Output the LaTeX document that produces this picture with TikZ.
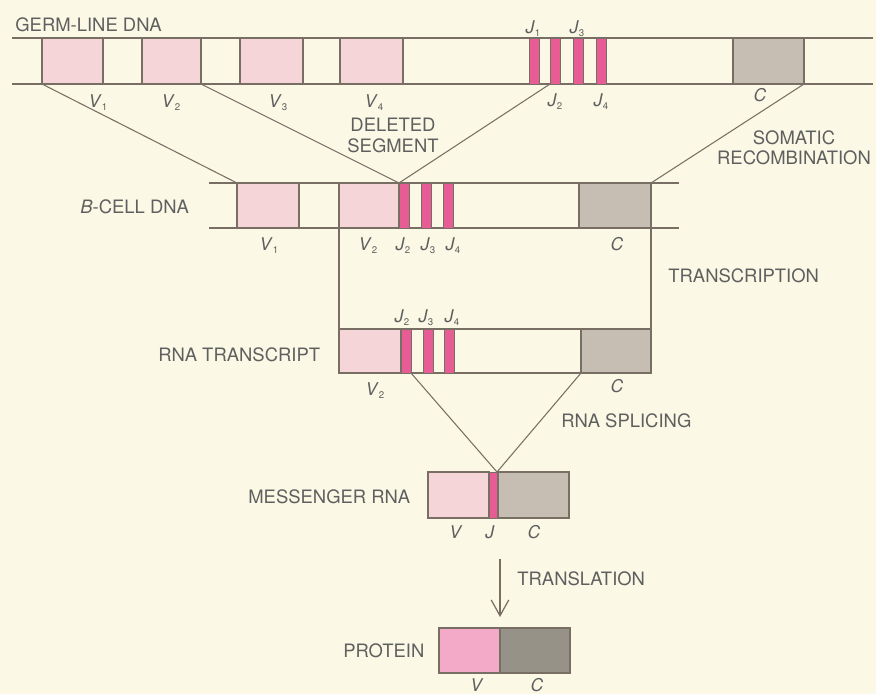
\documentclass[tikz,border=0pt]{standalone}
\usepackage{fontspec}
\setmainfont{TeX Gyre Heros}
\usepackage{tikz}
\usepackage{xcolor}
\usetikzlibrary{arrows.meta}
\definecolor{paper}{RGB}{251,249,230}
\definecolor{strandgray}{RGB}{120,110,100}
\definecolor{vpink}{RGB}{246,213,216}
\definecolor{jpink}{RGB}{232,92,150}
\definecolor{cgray}{RGB}{198,190,178}
\definecolor{protpink}{RGB}{242,170,200}
\definecolor{protgray}{RGB}{150,146,136}
\definecolor{textgray}{RGB}{95,95,95}
\newcommand{\seg}[2]{\textit{#1}\raisebox{-0.4ex}{\fontsize{5.5}{6}\selectfont #2}}

\tikzset{
  strand/.style={draw=strandgray, line width=0.7pt},
  vbox/.style={fill=vpink, draw=strandgray, line width=0.7pt},
  jbar/.style={fill=jpink, draw=strandgray, line width=0.5pt},
  cbox/.style={fill=cgray, draw=strandgray, line width=0.7pt},
  link/.style={draw=strandgray, line width=0.6pt},
  caption/.style={text=textgray, font=\fontsize{10.5}{11.6}\selectfont, inner sep=0pt},
  seglabel/.style={text=textgray, font=\fontsize{10}{12}\selectfont, inner sep=0pt, anchor=base}
}

\begin{document}
\begin{tikzpicture}[x=0.02cm, y=-0.02cm]
    % paper
    \fill[paper] (0,0) rectangle (876,694);
    \useasboundingbox (0,0) rectangle (876,694);

    % germ-line DNA
    \draw[strand] (12,38) -- (873,38);
    \draw[strand] (12,84) -- (873,84);
    \foreach \a/\b in {42/103, 142/201, 240/303, 340/403}
        \filldraw[vbox] (\a,38) rectangle (\b,84);
    \foreach \a in {529, 550, 573, 596}
        \filldraw[jbar] (\a,38) rectangle +(10,46);
    \filldraw[cbox] (733,38) rectangle (804,84);
    \node[caption, anchor=base west] (germ) at (15,31) {GERM-LINE DNA};
    \node[seglabel] (gv1) at (98,107) {\seg{V}{1}};
    \node[seglabel] (gv2) at (171,107) {\seg{V}{2}};
    \node[seglabel] (gv3) at (278,107) {\seg{V}{3}};
    \node[seglabel] (gv4) at (374,107) {\seg{V}{4}};
    \node[seglabel] (gj1) at (533,33) {\seg{J}{1}};
    \node[seglabel] (gj3) at (577,33) {\seg{J}{3}};
    \node[seglabel] (gj2) at (555,106) {\seg{J}{2}};
    \node[seglabel] (gj4) at (601,106) {\seg{J}{4}};
    \node[seglabel] (gc) at (760,101) {\textit{C}};
    \coordinate (gV1) at (42,84);
    \coordinate (gV2) at (201,84);
    \coordinate (gJ2) at (550,84);
    \coordinate (gC) at (804,84);

    % B-cell DNA
    \draw[strand] (209,183) -- (679,183);
    \draw[strand] (209,228) -- (679,228);
    \foreach \a/\b in {237/299, 339/399}
        \filldraw[vbox] (\a,183) rectangle (\b,228);
    \foreach \a in {399, 421, 443}
        \filldraw[jbar] (\a,183) rectangle +(10,45);
    \filldraw[cbox] (579,183) rectangle (651,228);
    \node[caption, anchor=base west] (bcell) at (80,213) {\textit{B}-CELL DNA};
    \node[seglabel] (bv1) at (269,250) {\seg{V}{1}};
    \node[seglabel] (bv2) at (368,250) {\seg{V}{2}};
    \node[seglabel] (bj2) at (403,250) {\seg{J}{2}};
    \node[seglabel] (bj3) at (428,250) {\seg{J}{3}};
    \node[seglabel] (bj4) at (453,250) {\seg{J}{4}};
    \node[seglabel] (bc) at (617,250) {\textit{C}};
    \coordinate (bV1) at (237,183);
    \coordinate (bJ2) at (399,183);
    \coordinate (bC) at (651,183);
    \coordinate (bV2) at (339,228);
    \coordinate (bCb) at (651,228);

    % somatic recombination
    \draw[link] (gV1) -- (bV1);
    \draw[link] (gV2) -- (bJ2);
    \draw[link] (gJ2) -- (bJ2);
    \draw[link] (gC) -- (bC);
    \node[caption, align=center, anchor=north] (deleted) at (393,118) {DELETED\\SEGMENT};
    \node[caption, align=center, anchor=north] (somatic) at (794,130) {SOMATIC\\RECOMBINATION};

    % RNA transcript
    \draw[strand] (339,329) rectangle (651,373);
    \filldraw[vbox] (339,329) rectangle (401,373);
    \foreach \a in {401, 423, 444}
        \filldraw[jbar] (\a,329) rectangle +(10,44);
    \filldraw[cbox] (581,329) rectangle (651,373);
    \node[caption, anchor=base west] (rnatr) at (158,361) {RNA TRANSCRIPT};
    \node[seglabel] (rj2) at (402,322) {\seg{J}{2}};
    \node[seglabel] (rj3) at (426,322) {\seg{J}{3}};
    \node[seglabel] (rj4) at (452,322) {\seg{J}{4}};
    \node[seglabel] (rv2) at (375,395) {\seg{V}{2}};
    \node[seglabel] (rc) at (617,392) {\textit{C}};
    \coordinate (rV2) at (339,329);
    \coordinate (rC) at (651,329);
    \coordinate (rJ2) at (411,373);
    \coordinate (rCl) at (581,373);

    % transcription
    \draw[link] (bV2) -- (rV2);
    \draw[link] (bCb) -- (rC);
    \node[caption, anchor=base west] (transcr) at (668,282) {TRANSCRIPTION};

    % messenger RNA
    \filldraw[vbox] (428,472) rectangle (489,518);
    \filldraw[jbar] (489,472) rectangle (498,518);
    \filldraw[cbox] (498,472) rectangle (569,518);
    \node[caption, anchor=base west] (mrna) at (248,503) {MESSENGER RNA};
    \node[seglabel] (mv) at (456,538) {\textit{V}};
    \node[seglabel] (mj) at (490,538) {\textit{J}};
    \node[seglabel] (mc) at (534,538) {\textit{C}};
    \coordinate (mJ) at (497,472);

    % splicing
    \draw[link] (rJ2) -- (mJ);
    \draw[link] (rCl) -- (mJ);
    \node[caption, anchor=base west] (splice) at (561,427) {RNA SPLICING};

    % translation
    \coordinate (tlTop) at (500,559);
    \coordinate (tlTip) at (500,617);
    \draw[link, line width=0.7pt, -{Straight Barb[length=9pt,width=10pt]}] (tlTop) -- (tlTip);
    \node[caption, anchor=base west] (transl) at (517,585) {TRANSLATION};

    % protein
    \filldraw[fill=protpink, draw=strandgray, line width=0.7pt] (439,628) rectangle (500,673);
    \filldraw[fill=protgray, draw=strandgray, line width=0.7pt] (500,628) rectangle (570,673);
    \node[caption, anchor=base west] (protein) at (343,657) {PROTEIN};
    \node[seglabel] (pv) at (477,691) {\textit{V}};
    \node[seglabel] (pc) at (537,691) {\textit{C}};
\end{tikzpicture}
\end{document}
